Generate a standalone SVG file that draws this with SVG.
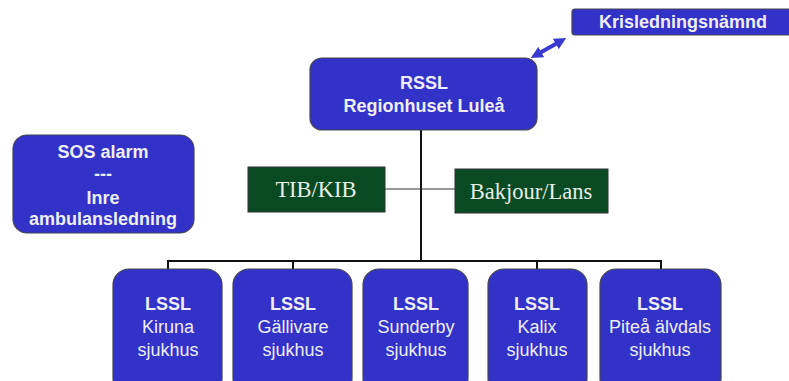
<svg xmlns="http://www.w3.org/2000/svg" width="789" height="381" viewBox="0 0 789 381">
<defs>
<style>
.blue{fill:#3232c8;stroke:#444455;stroke-width:1.2}
.green{fill:#0a4a22;stroke:#333;stroke-width:1}
.bt{font-family:"Liberation Sans",Arial,sans-serif;font-size:18px;fill:#eeeefa;text-anchor:middle}
.b{font-weight:bold}
.gt{font-family:"Liberation Serif","Times New Roman",serif;font-size:22.5px;fill:#e6eee6;text-anchor:middle}
.ln{stroke:#111;stroke-width:2;fill:none}
.thin{stroke:#333;stroke-width:1;fill:none}
</style>
<marker id="ah" viewBox="0 0 10 10" refX="5" refY="5" markerWidth="3" markerHeight="3" orient="auto-start-reverse">
<path d="M0,0 L10,5 L0,10 z" fill="#3a3ad0"/>
</marker>
</defs>
<rect width="789" height="381" fill="#fff"/>
<g id="connectors">
<line class="ln" x1="421" y1="130" x2="421" y2="261"/>
<polyline class="ln" points="168,269 168,261 661,261 661,269"/>
<line class="ln" x1="293" y1="261" x2="293" y2="269"/>
<line class="ln" x1="537" y1="261" x2="537" y2="269"/>
<line class="thin" x1="385" y1="189" x2="455" y2="189"/>
<line stroke="#3a3ad0" stroke-width="4" x1="536" y1="55" x2="561" y2="41" marker-start="url(#ah)" marker-end="url(#ah)"/>
</g>
<g id="krisledningsnamnd">
<rect class="blue" x="572" y="9" width="222" height="26" rx="3"/>
<text class="bt b" x="683" y="28">Krisledningsnämnd</text>
</g>
<g id="rssl">
<rect class="blue" x="310" y="58" width="227" height="72" rx="12"/>
<text class="bt b" x="424" y="89">RSSL</text>
<text class="bt b" x="424" y="112">Regionhuset Luleå</text>
</g>
<g id="sos">
<rect class="blue" x="13" y="135" width="181" height="98" rx="14"/>
<text class="bt b" x="103" y="158">SOS alarm</text>
<text class="bt b" x="103" y="180">---</text>
<text class="bt b" x="103" y="204">Inre</text>
<text class="bt b" x="103" y="225">ambulansledning</text>
</g>
<g id="tib">
<rect class="green" x="248" y="167" width="137" height="45"/>
<text class="gt" x="316" y="197">TIB/KIB</text>
</g>
<g id="bakjour">
<rect class="green" x="455" y="169" width="153" height="44"/>
<text class="gt" x="531" y="199">Bakjour/Lans</text>
</g>
<g id="kiruna">
<rect class="blue" x="113" y="269" width="109" height="125" rx="16"/>
<text class="bt b" x="168" y="310">LSSL</text>
<text class="bt" x="168" y="333">Kiruna</text>
<text class="bt" x="168" y="356">sjukhus</text>
</g>
<g id="gallivare">
<rect class="blue" x="233" y="269" width="119" height="125" rx="16"/>
<text class="bt b" x="293" y="310">LSSL</text>
<text class="bt" x="293" y="333">Gällivare</text>
<text class="bt" x="293" y="356">sjukhus</text>
</g>
<g id="sunderby">
<rect class="blue" x="363" y="269" width="105" height="125" rx="16"/>
<text class="bt b" x="416" y="310">LSSL</text>
<text class="bt" x="416" y="333">Sunderby</text>
<text class="bt" x="416" y="356">sjukhus</text>
</g>
<g id="kalix">
<rect class="blue" x="488" y="269" width="99" height="125" rx="16"/>
<text class="bt b" x="537" y="310">LSSL</text>
<text class="bt" x="537" y="333">Kalix</text>
<text class="bt" x="537" y="356">sjukhus</text>
</g>
<g id="pitea">
<rect class="blue" x="600" y="269" width="121" height="125" rx="16"/>
<text class="bt b" x="660" y="310">LSSL</text>
<text class="bt" x="660" y="333">Piteå älvdals</text>
<text class="bt" x="660" y="356">sjukhus</text>
</g>
</svg>
